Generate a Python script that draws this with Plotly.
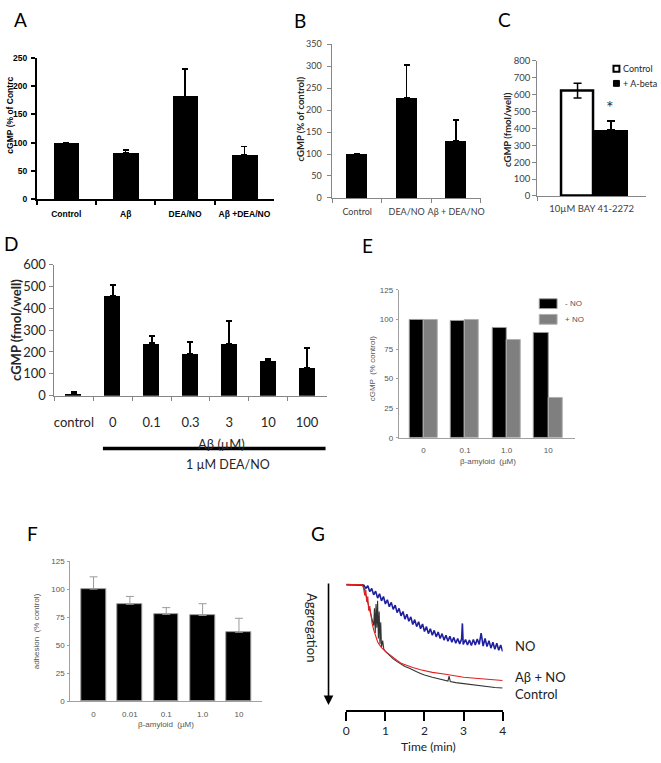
import plotly.graph_objects as go

W, H = 661, 763

# ---------------- data ----------------
# Panel A
a_cats = ["Control", "Aβ", "DEA/NO", "Aβ +DEA/NO"]
a_vals = [100, 82, 182, 78]
a_err = [0, 5, 48, 15]

# Panel B
b_cats = ["Control", "DEA/NO", "Aβ + DEA/NO"]
b_vals = [100, 228, 130]
b_err = [0, 75, 47]

# Panel C
c_cat = ["10µM BAY 41-2272"]
c_control = [625]
c_control_err_up = [43]
c_control_err_down = [45]
c_abeta = [390]
c_abeta_err = [55]

# Panel D
d_cats = ["control", "0", "0.1", "0.3", "3", "10", "100"]
d_vals = [10, 458, 240, 192, 237, 163, 128]
d_err = [8, 47, 32, 55, 105, 5, 89]

# Panel E
e_cats = ["0", "0.1", "1.0", "10"]
e_minus_no = [100, 99, 93, 88.5]
e_plus_no = [100, 100, 83, 33.5]

# Panel F
f_cats = ["0", "0.01", "0.1", "1.0", "10"]
f_vals = [100, 86.5, 77.5, 76.5, 61.5]
f_err = [11, 7, 6, 10.5, 12.5]

# Panel G (aggregation traces, 0 = baseline, larger = more aggregation)
g_no_t = [0, 0.40, 0.45, 0.50, 0.55, 0.60, 0.65, 0.70, 0.75, 0.80, 0.85, 0.90, 0.95,
          1.00, 1.05, 1.10, 1.15, 1.20, 1.25, 1.30, 1.35, 1.40, 1.45, 1.50, 1.55, 1.60,
          1.65, 1.70, 1.75, 1.80, 1.85, 1.90, 1.95, 2.00, 2.05, 2.10, 2.15, 2.20, 2.25,
          2.30, 2.35, 2.40, 2.45, 2.50, 2.55, 2.60, 2.65, 2.70, 2.75, 2.80, 2.85, 2.90,
          2.95, 2.97, 2.99, 3.05, 3.10, 3.15, 3.20, 3.25, 3.30, 3.35, 3.40, 3.45, 3.50,
          3.55, 3.60, 3.65, 3.70, 3.75, 3.80, 3.85, 3.90, 3.95, 4.00]
g_no_v = [0, 0, 0.5, 3.5, 1.0, 6.5, 3.5, 9.5, 6.0, 12.5, 8.5, 15.0, 11.0,
          18.0, 14.0, 20.5, 16.5, 23.0, 19.0, 26.0, 22.0, 29.0, 25.0, 32.0, 27.5, 34.0,
          30.0, 37.0, 32.5, 39.0, 34.5, 41.0, 36.5, 43.5, 39.0, 45.5, 41.0, 47.0, 42.5,
          48.5, 44.0, 50.0, 45.5, 51.5, 47.0, 52.5, 48.0, 53.5, 49.0, 54.5, 50.0, 55.0,
          50.5, 36.0, 55.5, 51.0, 56.0, 51.5, 56.5, 51.0, 56.0, 50.5, 55.5, 45.0, 57.0,
          50.0, 57.5, 52.0, 59.0, 53.5, 60.0, 54.5, 61.0, 56.0, 62.0]

g_abno_t = [0, 0.40, 0.44, 0.47, 0.50, 0.52, 0.55, 0.57, 0.60, 0.63, 0.66, 0.70, 0.75,
            0.80, 0.85, 0.90, 1.00, 1.10, 1.20, 1.30, 1.40, 1.50, 1.70, 1.90, 2.00, 2.20,
            2.50, 2.80, 3.00, 3.30, 3.60, 4.00]
g_abno_v = [0, 0, 3, 10, 5, 16, 11, 24, 20, 30, 36, 42, 48,
            53, 56, 58.5, 62, 65, 68, 70.5, 73, 74.5, 77, 79, 80, 81.5,
            83, 85, 86, 87, 88, 89]

g_ctrl_t = [0, 0.42, 0.46, 0.50, 0.54, 0.58, 0.62, 0.66, 0.70, 0.72, 0.74, 0.76, 0.78,
            0.80, 0.82, 0.84, 0.86, 0.88, 0.90, 0.93, 0.96, 1.00, 1.05, 1.10, 1.15, 1.20,
            1.30, 1.40, 1.50, 1.60, 1.70, 1.80, 1.90, 2.00, 2.20, 2.40, 2.60, 2.63, 2.66,
            2.80, 3.00, 3.20, 3.40, 3.60, 3.80, 4.00]
g_ctrl_v = [0, 0, 4, 10, 16, 22, 26, 32, 38, 22, 45, 18, 40,
            15, 50, 25, 55, 35, 58, 52, 60, 62, 64, 66, 67, 69,
            71.5, 74, 76, 77.5, 79.5, 81, 82.5, 84, 86, 88, 89.5, 85, 90,
            91, 92, 93, 94, 94.5, 95.5, 96]
g_ticks = [0, 1, 2, 3, 4]


# ---------------- helpers ----------------
def P(x):
    return x / W


def Q(y):
    return 1 - y / H


ARIAL = "Liberation Sans, Arial, sans-serif"
CALI = "Lato, Carlito, Calibri, sans-serif"


def up_err(arr, color="black", thick=1.5, width=3):
    return dict(type="data", array=arr, arrayminus=[0] * len(arr), symmetric=False,
                color=color, thickness=thick, width=width, visible=True)


fig = go.Figure()

# Panel A
fig.add_trace(go.Bar(x=a_cats, y=a_vals, width=0.43, marker=dict(color="black", line=dict(width=0)),
                     error_y=up_err(a_err), xaxis="x", yaxis="y"))
# Panel B
fig.add_trace(go.Bar(x=b_cats, y=b_vals, width=0.42, marker=dict(color="black", line=dict(width=0)),
                     error_y=up_err(b_err), xaxis="x2", yaxis="y2"))
# Panel C
fig.add_trace(go.Bar(x=c_cat, y=c_control, width=0.29, offset=-0.275,
                     marker=dict(color="white", line=dict(color="black", width=2.5)),
                     error_y=dict(type="data", array=c_control_err_up, arrayminus=c_control_err_down,
                                  symmetric=False, color="black", thickness=1.5, width=4),
                     xaxis="x3", yaxis="y3"))
fig.add_trace(go.Bar(x=c_cat, y=c_abeta, width=0.32, offset=0.017,
                     marker=dict(color="black", line=dict(width=0)),
                     error_y=up_err(c_abeta_err, width=4), xaxis="x3", yaxis="y3"))
# Panel D
fig.add_trace(go.Bar(x=d_cats, y=d_vals, width=0.41, marker=dict(color="black", line=dict(width=0)),
                     error_y=up_err(d_err, thick=2, width=3), xaxis="x4", yaxis="y4"))
# Panel E
fig.add_trace(go.Bar(x=e_cats, y=e_minus_no, width=0.34, offset=-0.34,
                     marker=dict(color="black", line=dict(color="#9a9a9a", width=1)),
                     xaxis="x5", yaxis="y5"))
fig.add_trace(go.Bar(x=e_cats, y=e_plus_no, width=0.34, offset=0.0,
                     marker=dict(color="#7f7f7f", line=dict(color="#b0b0b0", width=1)),
                     xaxis="x5", yaxis="y5"))
# Panel F
fig.add_trace(go.Bar(x=f_cats, y=f_vals, width=0.68,
                     marker=dict(color="black", line=dict(color="#9a9a9a", width=1)),
                     error_y=up_err(f_err, color="#9a9a9a", thick=1, width=4), xaxis="x6", yaxis="y6"))
# Panel G
fig.add_trace(go.Scatter(x=g_no_t, y=g_no_v, mode="lines", line=dict(color="#1f1f9e", width=1.6),
                         xaxis="x7", yaxis="y7"))
fig.add_trace(go.Scatter(x=g_ctrl_t, y=g_ctrl_v, mode="lines", line=dict(color="#333333", width=1.1),
                         xaxis="x7", yaxis="y7"))
fig.add_trace(go.Scatter(x=g_abno_t, y=g_abno_v, mode="lines", line=dict(color="#e02020", width=1.1),
                         xaxis="x7", yaxis="y7"))


def cat_x(dom, rng, font, color, linecolor, lw, ticks=True, standoff=0, anchor="y"):
    d = dict(domain=dom, anchor=anchor, type="category", range=rng, showline=True,
             linecolor=linecolor, linewidth=lw, showgrid=False, zeroline=False, tickangle=0,
             tickfont=dict(family=font[0], size=font[1], color=color, weight=font[2]),
             ticklabelstandoff=standoff, fixedrange=True)
    if ticks:
        d.update(ticks="outside", tickson="boundaries", ticklen=4, tickcolor=linecolor, tickwidth=lw)
    else:
        d.update(ticks="")
    return d


def val_y(dom, rng, dtick, font, color, linecolor, lw, anchor, standoff=0, ticklen=4):
    return dict(domain=dom, anchor=anchor, range=rng, dtick=dtick, tick0=0, showline=True,
                linecolor=linecolor, linewidth=lw, showgrid=False, zeroline=False,
                ticks="outside", ticklen=ticklen, tickcolor=linecolor, tickwidth=lw,
                tickfont=dict(family=font[0], size=font[1], color=color, weight=font[2]),
                ticklabelstandoff=standoff, fixedrange=True)


GRAY = "#868686"
LGRAY = "#a0a0a0"

layout = dict(
    width=W, height=H, autosize=False, margin=dict(l=0, r=0, t=0, b=0),
    paper_bgcolor="white", plot_bgcolor="rgba(0,0,0,0)", showlegend=False, bargap=0,
    xaxis=cat_x([P(34), P(274)], [-0.5, 3.5], (ARIAL, 8.5, "bold"), "black", "black", 1.5, standoff=6, anchor="y"),
    yaxis=val_y([Q(195), Q(51)], [0, 250], 50, (ARIAL, 8.5, "bold"), "black", "black", 1.5, "x", standoff=2),
    xaxis2=cat_x([P(333), P(483)], [-0.5, 2.5], (CALI, 9, "normal"), "#404040", GRAY, 1, standoff=5, anchor="y2"),
    yaxis2=val_y([Q(194), Q(37)], [0, 350], 50, (CALI, 9, "normal"), "#404040", GRAY, 1, "x2", standoff=4),
    xaxis3=cat_x([P(540), P(650)], [-0.5, 0.5], (CALI, 9.5, "normal"), "#404040", GRAY, 1, standoff=4, anchor="y3"),
    yaxis3=val_y([Q(192), Q(54)], [0, 800], 100, (CALI, 9.5, "normal"), "#404040", GRAY, 1, "x3", standoff=0),
    xaxis4=cat_x([P(52), P(327)], [-0.5, 6.5], (CALI, 13, "normal"), "#262626", GRAY, 1, standoff=15, anchor="y4"),
    yaxis4=val_y([Q(396), Q(262)], [0, 600], 100, (CALI, 13, "normal"), "#262626", GRAY, 1, "x4", standoff=1),
    xaxis5=cat_x([P(400), P(578)], [-0.595, 3.64], (ARIAL, 8, "normal"), "#555555", LGRAY, 1, ticks=False, standoff=5, anchor="y5"),
    yaxis5=val_y([Q(439), Q(288)], [0, 125], 25, (ARIAL, 8, "normal"), "#555555", LGRAY, 1, "x5", standoff=1, ticklen=2),
    xaxis6=cat_x([P(68), P(262)], [-0.64, 4.64], (ARIAL, 8, "normal"), "#555555", LGRAY, 1, ticks=False, standoff=5, anchor="y6"),
    yaxis6=val_y([Q(708), Q(565)], [0, 125], 25, (ARIAL, 8, "normal"), "#555555", LGRAY, 1, "x6", standoff=1, ticklen=2),
    xaxis7=dict(domain=[P(347), P(505)], anchor="y7", range=[0, 4], tickvals=g_ticks, showline=True,
                linecolor="black", linewidth=1.5, ticks="outside", ticklen=9, tickwidth=1.5, tickcolor="black",
                showgrid=False, zeroline=False, tickangle=0, tickfont=dict(family=CALI, size=12, color="#222222"),
                fixedrange=True),
    yaxis7=dict(domain=[Q(717), Q(580)], anchor="x7", range=[116.4, -8.18], visible=False, fixedrange=True),
)
fig.update_layout(**layout)

ann = []


def text(x, y, s, size, family=CALI, color="black", angle=0, xanchor="center", weight="normal"):
    ann.append(dict(x=P(x), y=Q(y), xref="paper", yref="paper", text=s, showarrow=False,
                    xanchor=xanchor, yanchor="middle", textangle=angle,
                    font=dict(family=family, size=size, color=color, weight=weight)))


# panel letters
for lab, x, y in [("A", 18, 12), ("B", 300, 13), ("C", 507, 12), ("D", 8, 241),
                  ("E", 368, 243), ("F", 30, 537), ("G", 318, 537)]:
    text(x, y, lab, 19)

# axis titles
text(7, 109, "cGMP (% of Contrc", 8.5, family=ARIAL, angle=-90, weight="bold")
text(301, 113, "cGMP (% of control)", 9.5, angle=-90, weight="bold", color="#262626")
text(510, 124, "cGMP (fmol/well)", 9.5, angle=-90, weight="bold", color="#262626")
text(13, 329, "cGMP (fmol/well)", 13, angle=-90, weight="bold", color="#262626")
text(221, 445, "Aβ (µM)", 13, color="#262626")
text(227, 466, "1 µM DEA/NO", 12.5, color="#262626")
text(373, 368, "cGMP  (% control)", 8, family=ARIAL, angle=-90, color="#555555")
text(490, 463, "β-amyloid  (µM)", 8, family=ARIAL, color="#555555")
text(34, 637, "adhesion  (% control)", 8, family=ARIAL, angle=-90, color="#555555")
text(165, 732, "β-amyloid  (µM)", 8, family=ARIAL, color="#555555")
text(430, 754, "Time (min)", 12, color="#222222")
text(313, 633, "Aggregation", 13, angle=90, color="#222222")

# star in C
text(614, 101, "*", 18, color="#333333")

# legend C
text(625, 62, "Control", 9, xanchor="left", color="#262626")
text(625, 77, "+ A-beta", 9, xanchor="left", color="#262626")
# legend E
text(566, 302, "- NO", 8, family=ARIAL, xanchor="left", color="#555555")
text(566, 318, "+ NO", 8, family=ARIAL, xanchor="left", color="#555555")
# labels G
text(515, 652, "NO", 13, xanchor="left", color="#222222")
text(515, 683, "Aβ + NO", 13, xanchor="left", color="#222222")
text(515, 701, "Control", 13, xanchor="left", color="#222222")

# arrow G
ann.append(dict(x=P(329), y=Q(712), xref="paper", yref="paper", ax=0, ay=-123,
                axref="pixel", ayref="pixel", text="", showarrow=True, arrowhead=2,
                arrowsize=1.2, arrowwidth=1.6, arrowcolor="black"))

fig.update_layout(annotations=ann)

shapes = [
    # D treatment bar
    dict(type="line", xref="paper", yref="paper", x0=P(101), x1=P(326), y0=Q(450), y1=Q(450),
         line=dict(color="black", width=3.5)),
    # C legend squares
    dict(type="rect", xref="paper", yref="paper", x0=P(617), x1=P(623), y0=Q(65), y1=Q(59),
         fillcolor="white", line=dict(color="black", width=2)),
    dict(type="rect", xref="paper", yref="paper", x0=P(617), x1=P(623), y0=Q(80), y1=Q(74),
         fillcolor="black", line=dict(color="black", width=1)),
    # E legend squares
    dict(type="rect", xref="paper", yref="paper", x0=P(542), x1=P(560), y0=Q(307), y1=Q(297),
         fillcolor="black", line=dict(color="#9a9a9a", width=1)),
    dict(type="rect", xref="paper", yref="paper", x0=P(542), x1=P(560), y0=Q(323), y1=Q(313),
         fillcolor="#7f7f7f", line=dict(color="#b0b0b0", width=1)),
]
fig.update_layout(shapes=shapes)

fig.write_html("out.html", config={"displayModeBar": False},
               post_script="document.body.style.margin='0';document.body.style.overflow='hidden';")
